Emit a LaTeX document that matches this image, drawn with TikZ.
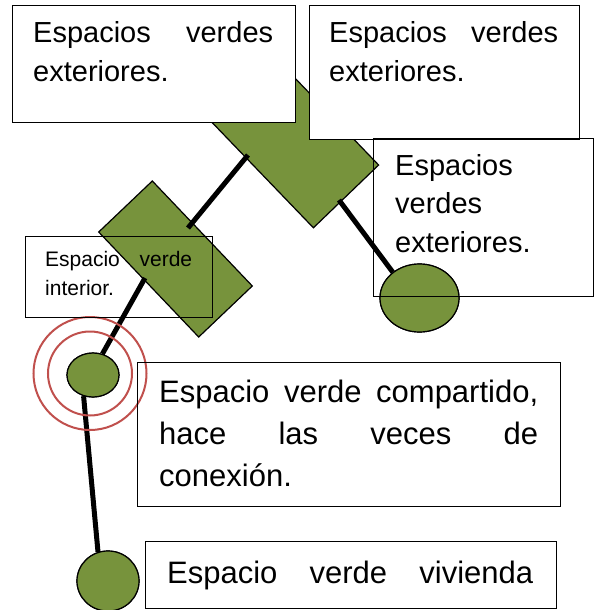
\documentclass[tikz,border=0pt]{standalone}
\usepackage{fontspec}
\setmainfont{Liberation Sans}
\usetikzlibrary{shapes.geometric}
\definecolor{leafgreen}{RGB}{119,147,60}
\definecolor{ringred}{RGB}{192,80,77}
\begin{document}
\begin{tikzpicture}[x=1pt,y=-1pt,
  gshape/.style={draw=black, line width=1.2pt, fill=leafgreen, rectangle, inner sep=0pt},
  gell/.style={draw=black, line width=1.2pt, fill=leafgreen, ellipse, inner sep=0pt},
  link/.style={line width=5pt, black},
  ring/.style={draw=ringred, line width=2pt, circle, inner sep=0pt},
  wbox/.style={draw=black, line width=1.3pt, fill=white, rectangle, inner sep=0pt, anchor=north west},
  obox/.style={draw=black, line width=1.3pt, rectangle, inner sep=0pt, anchor=north west},
  txt/.style={inner sep=0pt, anchor=base west},
]
\useasboundingbox (0,0) rectangle (596,610);

% green rotated rectangles
\node[gshape, minimum width=176pt, minimum height=90.5pt, rotate=-46.1] (d1) at (285,133) {};
\node[gshape, minimum width=145pt, minimum height=74pt, rotate=-46.4] (d2) at (175.5,259) {};

% ellipses
\node[gell, minimum width=79pt, minimum height=68pt] (e1) at (419.5,298) {};
\node[gell, minimum width=52pt, minimum height=44pt] (e2) at (93,375) {};
\node[gell, minimum width=62pt, minimum height=60pt] (e3) at (108,581) {};

% connector end points on the rectangles
\coordinate (c1a) at (248,155);
\coordinate (c1b) at (188,228);
\coordinate (c2a) at (339,200);
\coordinate (c3a) at (145,278);

\draw[link] (c1a) -- (c1b);
\draw[link] (c2a) -- (e1.136);
\draw[link] (c3a) -- (e2.66);
\draw[link] (e2.246) -- (e3.109);

% redraw ellipses over the line ends
\node[gell, minimum width=79pt, minimum height=68pt] (e1b) at (e1) {};
\node[gell, minimum width=52pt, minimum height=44pt] (e2b) at (e2) {};
\node[gell, minimum width=62pt, minimum height=60pt] (e3b) at (e3) {};

% rings
\node[ring, minimum size=113pt] (r1) at (90,373.5) {};
\node[ring, minimum size=84pt] (r2) at (90,373.5) {};

% boxes
\node[wbox, minimum width=283pt, minimum height=117pt] (b1) at (12,5) {};
\node[wbox, minimum width=270pt, minimum height=134pt] (b2) at (309,5) {};
\node[obox, minimum width=220pt, minimum height=158pt] (b3) at (373,138) {};
\node[obox, minimum width=187pt, minimum height=81pt] (b4) at (25,236) {};
\node[obox, minimum width=423pt, minimum height=144pt] (b5) at (137,362) {};
\node[obox, minimum width=411pt, minimum height=67pt] (b6) at (145,541) {};

% texts
\node[txt] (t1) at (33,43) {\parbox[t]{240pt}{\fontsize{29}{39}\selectfont Espacios\hfill verdes\\exteriores.}};
\node[txt] (t2) at (329,43) {\parbox[t]{229pt}{\fontsize{29}{39}\selectfont Espacios\hfill verdes\\exteriores.}};
\node[txt] (t3) at (395,175) {\parbox[t]{190pt}{\fontsize{29}{38.5}\selectfont Espacios\\verdes\\exteriores.}};
\node[txt] (t4) at (45,266) {\parbox[t]{147pt}{\fontsize{21}{29}\selectfont Espacio\hfill verde\\interior.}};
\node[txt] (t5) at (159,402) {\parbox[t]{379pt}{\fontsize{31}{42}\selectfont Espacio\hfill verde\hfill compartido,\\hace\hfill las\hfill veces\hfill de\\conexión.}};
\node[txt] (t6) at (167,583) {\parbox[t]{366pt}{\fontsize{31}{42}\selectfont Espacio\hfill verde\hfill vivienda}};
\end{tikzpicture}
\end{document}
